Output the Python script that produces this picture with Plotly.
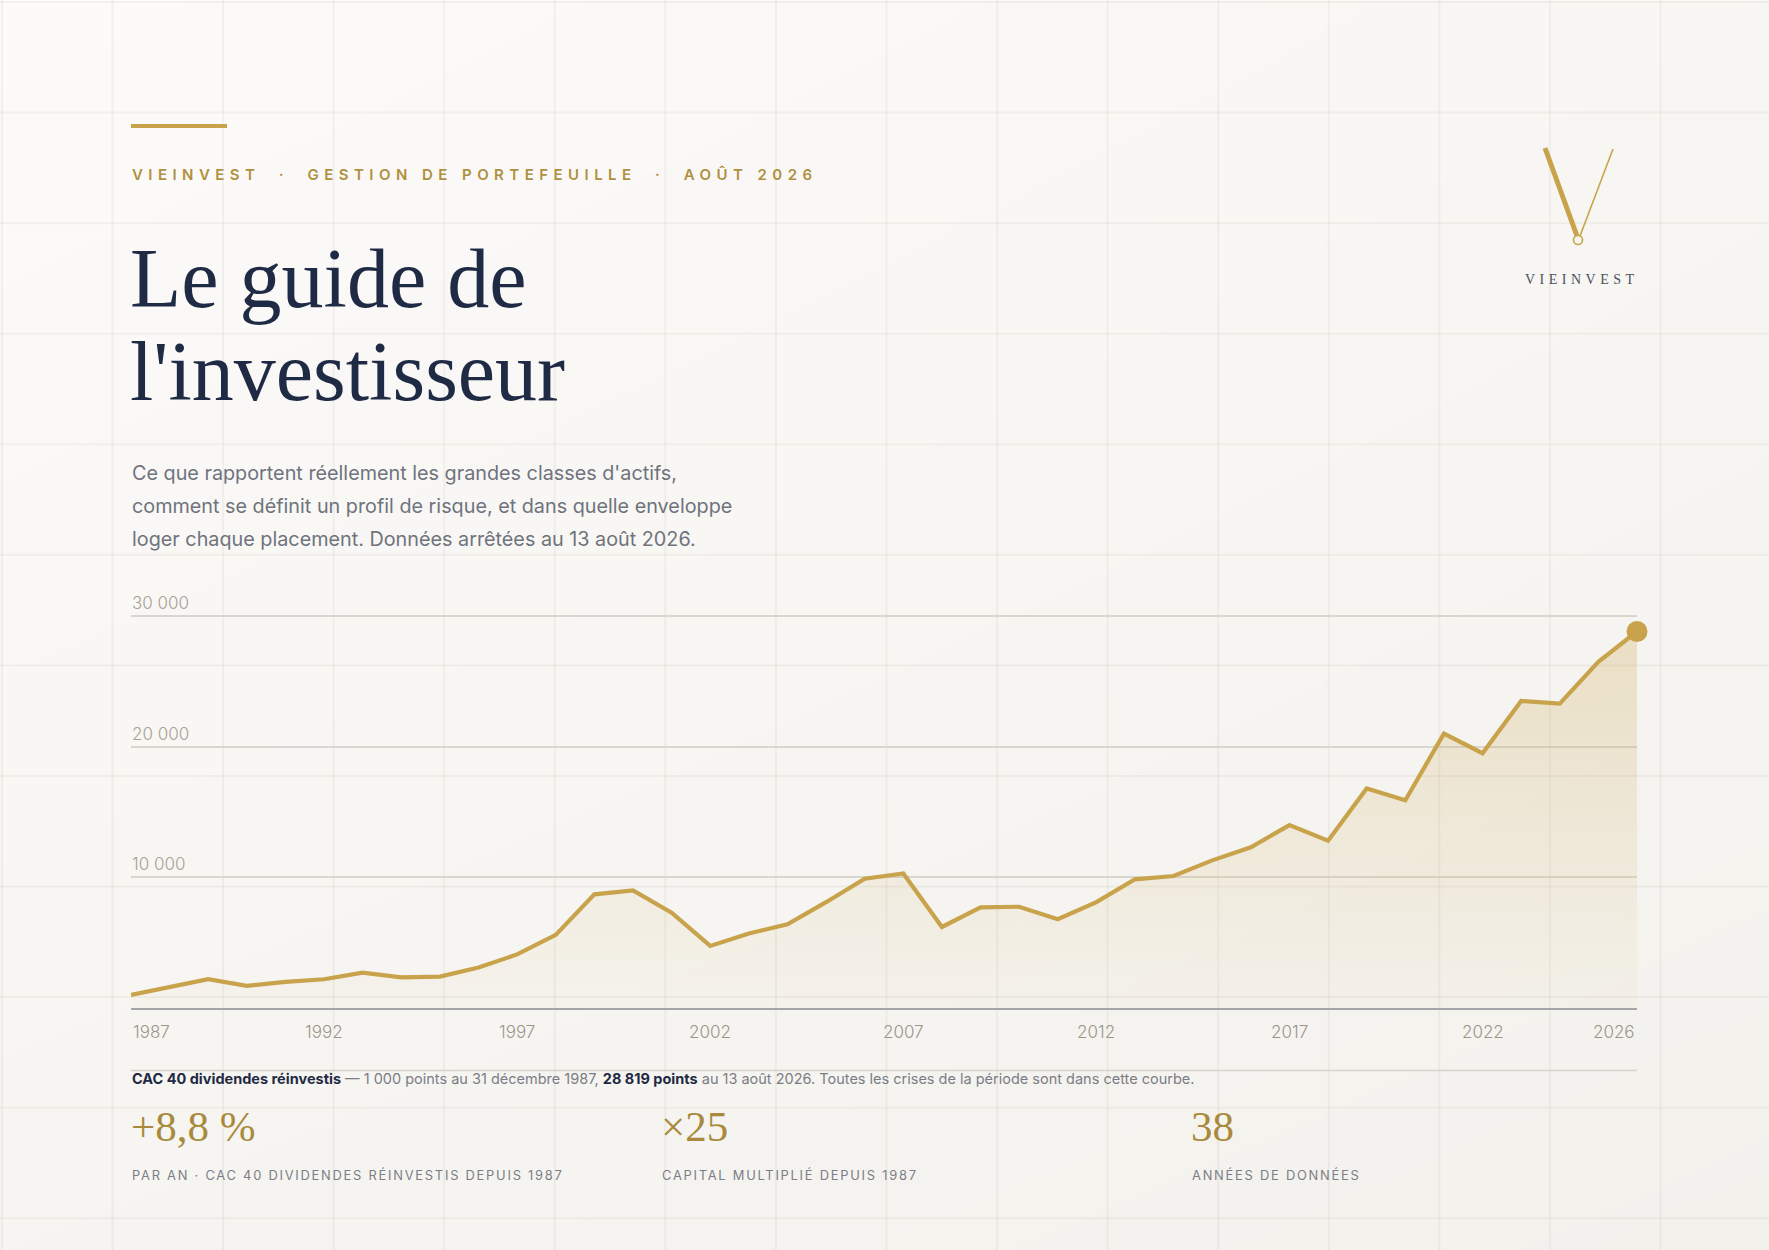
import plotly.graph_objects as go

# ---------------- data ----------------
years = list(range(1987, 2027))
cac40_tr = [1000, 1600, 2200, 1700, 2000, 2200, 2700, 2350, 2400, 3100,
            4100, 5600, 8700, 9000, 7300, 4750, 5700, 6400, 8100, 9900,
            10300, 6200, 7700, 7750, 6800, 8100, 9850, 10100, 11300, 12300,
            14000, 12800, 16800, 15900, 21000, 19500, 23500, 23300, 26500, 28819]
x_tick_years = [1987, 1992, 1997, 2002, 2007, 2012, 2017, 2022, 2026]
y_tick_vals = [10000, 20000, 30000]
y_tick_text = ["10 000", "20 000", "30 000"]

stat_values = ["+8,8 %", "×25", "38"]
stat_labels = ["PAR AN · CAC 40 DIVIDENDES RÉINVESTIS DEPUIS 1987",
               "CAPITAL MULTIPLIÉ DEPUIS 1987",
               "ANNÉES DE DONNÉES"]

# ---------------- style ----------------
W, H = 1769, 1250
GOLD = "#c8a34b"
GOLD_TXT = "#a98a3d"
NAVY = "#1f2a44"
GREY = "#6f737c"
SANS = "Inter"
SERIF = "Liberation Serif"

def px(x):
    return x / W

def py(y):
    return 1 - y / H

PL, PR = 131, 1637          # plot left/right in px
PB, PT = 1008, 608.2        # plot bottom/top in px
YMAX = 30600

fig = go.Figure()

# background gradient (own full-page subplot)
fig.add_trace(go.Heatmap(
    x=[0, W], y=[0, H], z=[[1.0, 0.55], [0.35, 0.0]],
    colorscale=[[0, "#f3f1ec"], [1, "#fcfbfa"]], zsmooth="best",
    showscale=False, hoverinfo="skip", xaxis="x", yaxis="y"))

# faint page grid
pitch = W / 16
gx, gy = [], []
k = 0
while k * pitch < W:
    gx += [2 + k * pitch, 2 + k * pitch, None]
    gy += [0, H, None]
    k += 1
k = 0
while k * pitch < H:
    gx += [0, W, None]
    gy += [2 + k * pitch, 2 + k * pitch, None]
    k += 1
fig.add_trace(go.Scatter(x=gx, y=gy, mode="lines",
                         line=dict(color="rgba(120,110,90,0.07)", width=2),
                         hoverinfo="skip", showlegend=False, xaxis="x", yaxis="y"))

# main series
fig.add_trace(go.Scatter(
    x=years, y=cac40_tr, mode="lines", fill="tozeroy",
    line=dict(color=GOLD, width=4.2),
    fillgradient=dict(type="vertical", start=0, stop=29000,
                      colorscale=[[0, "rgba(201,164,76,0.03)"], [1, "rgba(201,164,76,0.27)"]]),
    hoverinfo="skip", showlegend=False, xaxis="x2", yaxis="y2"))
fig.add_trace(go.Scatter(
    x=[years[-1]], y=[cac40_tr[-1]], mode="markers", cliponaxis=False,
    marker=dict(color=GOLD, size=21),
    hoverinfo="skip", showlegend=False, xaxis="x2", yaxis="y2"))

annotations = []

def ann(text, x, y, size, color, family=SANS, xanchor="left", yanchor="middle",
        weight=None, xref="paper", yref="paper", **kw):
    f = dict(size=size, color=color, family=family)
    if weight is not None:
        f["weight"] = weight
    annotations.append(dict(text=text, x=x, y=y, xref=xref, yref=yref,
                            xanchor=xanchor, yanchor=yanchor, showarrow=False,
                            font=f, **kw))

def spaced(t, ls):
    return '<span style="letter-spacing:%spx">%s</span>' % (ls, t)

# eyebrow
nb = "\u00a0\u00a0·\u00a0\u00a0"
ann(spaced("VIEINVEST" + nb + "GESTION DE PORTEFEUILLE" + nb + "AOÛT 2026", 5.45),
    px(PL - 1), py(174), 15, "#b0903f", weight=600)

# title
ann("Le guide de", px(PL - 3), py(278.5), 84, NAVY, family=SERIF)
ann("l'investisseur", px(PL - 3), py(372), 84, NAVY, family=SERIF)

# subtitle
sub = ["Ce que rapportent réellement les grandes classes d'actifs,",
       "comment se définit un profil de risque, et dans quelle enveloppe",
       "loger chaque placement. Données arrêtées au 13 août 2026."]
for i, line in enumerate(sub):
    ann(line, px(PL - 1), py(472.5 + 33 * i), 19.8, GREY)

# y labels
for v, t in zip(y_tick_vals, y_tick_text):
    ann(t, px(PL - 1), v, 17, "#a6a196", yref="y2", yanchor="bottom", yshift=1, weight=300)

# x labels
for yr in x_tick_years:
    xa = "left" if yr == x_tick_years[0] else ("right" if yr == x_tick_years[-1] else "center")
    ann(str(yr), yr, py(1032), 17, "#9a958b", xref="x2", xanchor=xa, weight=300)

# caption
ann("<b style='color:%s'>CAC 40 dividendes réinvestis</b> — 1 000 points au 31 décembre 1987, "
    "<b style='color:%s'>28 819 points</b> au 13 août 2026. Toutes les crises de la période "
    "sont dans cette courbe." % (NAVY, NAVY),
    px(PL - 1), py(1078.5), 14.5, "#7a7d85")

# stats
stat_x = [131, 661, 1191]
for sx, sv, sl in zip(stat_x, stat_values, stat_labels):
    ann(sv, px(sx - 2), py(1126.5), 43, GOLD_TXT, family=SERIF)
    ann(spaced(sl, 1.75), px(sx - 1), py(1174.5), 12.9, "#7b7e86")

# logo text
ann(spaced("VIEINVEST", 4.5), px(1582), py(280), 14, "#4b5060", family=SERIF, xanchor="center")

shapes = [
    # gold bar
    dict(type="rect", xref="paper", yref="paper", x0=px(131), x1=px(227), y0=py(128), y1=py(124),
         fillcolor=GOLD, line=dict(width=0)),
    # caption rule
    dict(type="line", xref="paper", yref="paper", x0=px(PL), x1=px(PR), y0=py(1070.5), y1=py(1070.5),
         line=dict(color="#d6d3cc", width=1.5)),
    # logo strokes
    dict(type="line", xref="paper", yref="paper", x0=px(1545), y0=py(148), x1=px(1577), y1=py(236),
         line=dict(color=GOLD, width=5)),
    dict(type="line", xref="paper", yref="paper", x0=px(1613), y0=py(149), x1=px(1580), y1=py(236),
         line=dict(color=GOLD, width=1.6)),
    dict(type="circle", xref="paper", yref="paper", x0=px(1573.5), x1=px(1582.5),
         y0=py(244.5), y1=py(235.5), fillcolor="#f7f6f2", line=dict(color=GOLD, width=1.6)),
]

fig.update_layout(
    width=W, height=H, autosize=False,
    margin=dict(l=0, r=0, t=0, b=0),
    paper_bgcolor="#f5f3ee", plot_bgcolor="rgba(0,0,0,0)",
    showlegend=False,
    xaxis=dict(domain=[0, 1], range=[0, W], visible=False, fixedrange=True),
    yaxis=dict(domain=[0, 1], range=[H, 0], visible=False, fixedrange=True),
    xaxis2=dict(domain=[px(PL), px(PR)], range=[years[0], years[-1]], anchor="y2",
                showgrid=False, zeroline=False, showticklabels=False, ticks="",
                showline=True, linecolor="#a4a5a9", linewidth=2),
    yaxis2=dict(domain=[py(PB), py(PT)], range=[0, YMAX], anchor="x2",
                tickvals=y_tick_vals, showgrid=True, gridcolor="#d9d6cf", gridwidth=1.5,
                zeroline=False, showticklabels=False, ticks="", showline=False),
    annotations=annotations, shapes=shapes,
)

fig.write_html(
    "out.html",
    config={"displayModeBar": False},
    post_script="document.body.style.margin='0';document.body.style.background='#f5f3ee';",
)
